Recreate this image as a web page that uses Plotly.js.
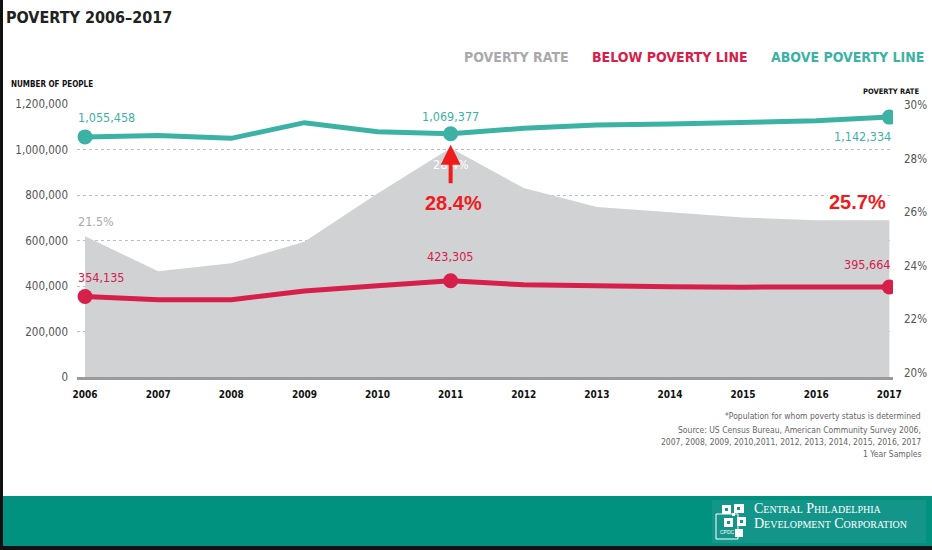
<!DOCTYPE html>
<html>
<head>
<meta charset="utf-8">
<script src="https://cdn.plot.ly/plotly-3.0.1.min.js"></script>
<style>html,body{margin:0;padding:0;background:#fff;}#chart{width:932px;height:550px;}</style>
</head>
<body>
<div id="chart"></div>
<script>
// ---- data ----
const years = [2006, 2007, 2008, 2009, 2010, 2011, 2012, 2013, 2014, 2015, 2016, 2017];
const aboveLine = [1055458, 1061000, 1049000, 1118000, 1078000, 1069377, 1093000, 1108000, 1112000, 1119000, 1126000, 1142334];
const belowLine = [354135, 340000, 340000, 378000, 401000, 423305, 405000, 399000, 397000, 395000, 394000, 395664];
const povertyRate = [25.1, 23.8, 24.1, 24.9, 26.7, 28.4, 26.9, 26.2, 26.0, 25.8, 25.7, 25.7];
const highlightYears = [2006, 2011, 2017];
const rateLabel2006 = "21.5%";          // as printed in the source chart
const leftTicks = [0, 200000, 400000, 600000, 800000, 1000000, 1200000];
const rightTicks = [20, 22, 24, 26, 28, 30];
const footnotes = [
  "*Population for whom poverty status is determined",
  "Source: US Census Bureau, American Community Survey 2006,",
  "2007, 2008, 2009, 2010,2011, 2012, 2013, 2014, 2015, 2016, 2017",
  "1 Year Samples"
];

// ---- styling ----
const TEAL = '#3cb2a4', RED = '#d6204a', AREA = '#d1d2d4', GREYTXT = '#a9a9ab';
const COND = '"Liberation Sans Narrow", "DejaVu Sans Condensed", "Arial Narrow", sans-serif';
const L = 77, R = 893, T = 104, B = 377, W = R - L, H = B - T;
const fx = px => (px - L) / W, fy = py => (B - py) / H;
const fmt = v => v.toLocaleString('en-US');
const idx = y => years.indexOf(y);
const markerSizes = years.map(y => highlightYears.includes(y) ? 15 : 0);

// area on the primary (percent, right-side) axis so it is drawn beneath the lines on the overlay axis
const traces = [
  {x: years, y: povertyRate, type: 'scatter', mode: 'lines', fill: 'tozeroy',
   fillcolor: AREA, line: {color: AREA, width: 0}, hoverinfo: 'skip', name: 'Poverty rate'},
  {x: years, y: belowLine, yaxis: 'y2', type: 'scatter', mode: 'lines+markers', name: 'Below poverty line',
   line: {color: RED, width: 5}, marker: {color: RED, size: markerSizes, opacity: 1, line: {width: 0}}},
  {x: years, y: aboveLine, yaxis: 'y2', type: 'scatter', mode: 'lines+markers', name: 'Above poverty line',
   line: {color: TEAL, width: 5}, marker: {color: TEAL, size: markerSizes, opacity: 1, line: {width: 0}}}
];

const i06 = idx(2006), i11 = idx(2011), i17 = idx(2017);
const valFont = c => ({family: COND, size: 12.5, color: c});
const hdrFont = c => ({family: COND, size: 14, color: c});
const annotations = [
  // legend-like headers
  {xref: 'paper', yref: 'paper', x: fx(462), y: fy(47), xanchor: 'left', text: '<b>POVERTY RATE</b>', showarrow: false, font: hdrFont(GREYTXT)},
  {xref: 'paper', yref: 'paper', x: fx(590), y: fy(47), xanchor: 'left', text: '<b>BELOW POVERTY LINE</b>', showarrow: false, font: hdrFont(RED)},
  {xref: 'paper', yref: 'paper', x: fx(769), y: fy(47), xanchor: 'left', text: '<b>ABOVE POVERTY LINE</b>', showarrow: false, font: hdrFont(TEAL)},
  // axis headers
  {xref: 'paper', yref: 'paper', x: fx(9), y: fy(78), xanchor: 'left', text: '<b>NUMBER OF PEOPLE</b>', showarrow: false,
   font: {family: COND, size: 8, color: '#111'}},
  {xref: 'paper', yref: 'paper', x: fx(921), y: fy(85), xanchor: 'right', text: '<b>POVERTY RATE</b>', showarrow: false,
   font: {family: COND, size: 7.5, color: '#111'}},
  // value labels
  {x: years[i06], y: aboveLine[i06], yref: 'y2', xanchor: 'left', xshift: -9, yshift: 19, text: fmt(aboveLine[i06]), showarrow: false, font: valFont(TEAL)},
  {x: years[i11], y: aboveLine[i11], yref: 'y2', xanchor: 'center', yshift: 17, text: fmt(aboveLine[i11]), showarrow: false, font: valFont(TEAL)},
  {x: years[i17], y: aboveLine[i17], yref: 'y2', xanchor: 'right', xshift: 4, yshift: -19, text: fmt(aboveLine[i17]), showarrow: false, font: valFont(TEAL)},
  {x: years[i06], y: belowLine[i06], yref: 'y2', xanchor: 'left', xshift: -9, yshift: 19, text: fmt(belowLine[i06]), showarrow: false, font: valFont(RED)},
  {x: years[i11], y: belowLine[i11], yref: 'y2', xanchor: 'center', yshift: 24, text: fmt(belowLine[i11]), showarrow: false, font: valFont(RED)},
  {x: years[i17], y: belowLine[i17], yref: 'y2', xanchor: 'right', xshift: 4, yshift: 22, text: fmt(belowLine[i17]), showarrow: false, font: valFont(RED)},
  {x: years[i06], y: povertyRate[i06], yref: 'y', xanchor: 'left', xshift: -9, yshift: 15, text: rateLabel2006, showarrow: false, font: valFont(GREYTXT)},
  {x: years[i11], y: povertyRate[i11], yref: 'y', xanchor: 'center', yshift: -17, text: povertyRate[i11].toFixed(1) + '%', showarrow: false, font: valFont('#ffffff')},
  // red overlay arrow and callouts
  {x: years[i11], y: aboveLine[i11], yref: 'y2', xanchor: 'center', yshift: -11, ax: 0, ay: 40, showarrow: true,
   arrowcolor: '#ee1c1c', arrowwidth: 4, arrowhead: 2, arrowsize: 1, text: ''},
  {x: years[i11], y: povertyRate[i11], yref: 'y', xanchor: 'center', xshift: 3, yshift: -55, text: '<b>' + povertyRate[i11].toFixed(1) + '%</b>', showarrow: false,
   font: {family: 'Liberation Sans, Arial, sans-serif', size: 20, color: '#ee1c1c'}},
  {x: years[i17], y: povertyRate[i17], yref: 'y', xanchor: 'right', xshift: -1, yshift: 18, text: '<b>' + povertyRate[i17].toFixed(1) + '%</b>', showarrow: false,
   bgcolor: '#ffffff', font: {family: 'Liberation Sans, Arial, sans-serif', size: 20, color: '#ee1c1c'}},
  // logo text
  {xref: 'paper', yref: 'paper', x: fx(752), y: fy(518), xanchor: 'left', text: 'Central Philadelphia', showarrow: false,
   font: {family: '"Liberation Serif", "DejaVu Serif", serif', size: 14, color: '#ffffff', variant: 'small-caps'}},
  {xref: 'paper', yref: 'paper', x: fx(752), y: fy(533), xanchor: 'left', text: 'Development Corporation', showarrow: false,
   font: {family: '"Liberation Serif", "DejaVu Serif", serif', size: 14, color: '#ffffff', variant: 'small-caps'}},
  {xref: 'paper', yref: 'paper', x: fx(727), y: fy(537), xanchor: 'center', text: 'CPDC', showarrow: false,
   font: {family: 'sans-serif', size: 5, color: '#ffffff'}}
];
footnotes.forEach((t, k) => annotations.push({
  xref: 'paper', yref: 'paper', x: fx(923), y: fy(k === 0 ? 423 : 425 + 12 * k), xanchor: 'right',
  text: t, showarrow: false, font: {family: '"DejaVu Sans Condensed", sans-serif', size: 8.5, color: '#666'}
}));

const rect = (x0, y0, x1, y1, color, extra) => Object.assign({type: 'rect', xref: 'paper', yref: 'paper',
  x0: fx(x0), x1: fx(x1), y0: fy(y0), y1: fy(y1), fillcolor: color, line: {width: 0}, layer: 'above'}, extra || {});
const shapes = [
  rect(0, 496, 932, 547, '#00917f'),
  rect(712, 500, 926, 543, '#14958a'),
  rect(716, 514, 738, 539, 'rgba(0,0,0,0)', {line: {color: '#ffffff', width: 1}}),
  rect(722, 505, 731, 514, '#ffffff'), rect(734, 504, 744, 513, '#ffffff'),
  rect(724, 518, 733, 527, '#ffffff'), rect(737, 517, 746, 526, '#ffffff'),
  rect(735, 529, 743, 537, '#ffffff'), rect(732, 513, 735, 516, '#ffffff'),
  rect(725, 508, 728, 511, '#14958a'), rect(737, 507, 740, 510, '#14958a'),
  rect(727, 521, 730, 524, '#14958a'), rect(740, 520, 743, 523, '#14958a'),
  rect(0, 0, 3, 550, '#111111'),
  rect(0, 546, 932, 550, '#111111')
];

const tickFont = {family: '"DejaVu Sans Condensed", sans-serif', size: 11.5, color: '#555'};
const layout = {
  width: 932, height: 550,
  margin: {l: L, r: 932 - R, t: T, b: 550 - B, pad: 0},
  paper_bgcolor: '#ffffff', plot_bgcolor: '#ffffff',
  showlegend: false,
  title: {text: '<b>POVERTY 2006–2017</b>', x: 6 / 932, xanchor: 'left', y: 1 - 17 / 550, yanchor: 'middle',
          font: {family: COND, size: 16, color: '#222'}},
  xaxis: {range: [2005.89, 2017.05], tickmode: 'array', tickvals: years, ticktext: years.map(String),
          showgrid: false, zeroline: false, showline: true, linecolor: '#9a9a9a', linewidth: 3,
          ticks: '', ticklabelstandoff: 6, tickfont: {family: COND, size: 10, color: '#111', weight: 'bold'}},
  yaxis: {side: 'right', range: [19.85, 30.04], tickmode: 'array', tickvals: rightTicks,
          ticktext: rightTicks.map(v => v + '%'), showgrid: false, zeroline: false, showline: false,
          ticks: '', ticklabelstandoff: 10, tickfont: tickFont},
  yaxis2: {overlaying: 'y', side: 'left', range: [0, 1200000], tickmode: 'array', tickvals: leftTicks, ticktext: leftTicks.map(fmt),
          showgrid: true, gridcolor: '#bdbdbd', griddash: 'dot', gridwidth: 1, zeroline: false, showline: false,
          ticks: '', ticklabelstandoff: 8, tickfont: tickFont},
  annotations: annotations,
  shapes: shapes
};

Plotly.newPlot('chart', traces, layout, {displayModeBar: false, staticPlot: true});
</script>
</body>
</html>
